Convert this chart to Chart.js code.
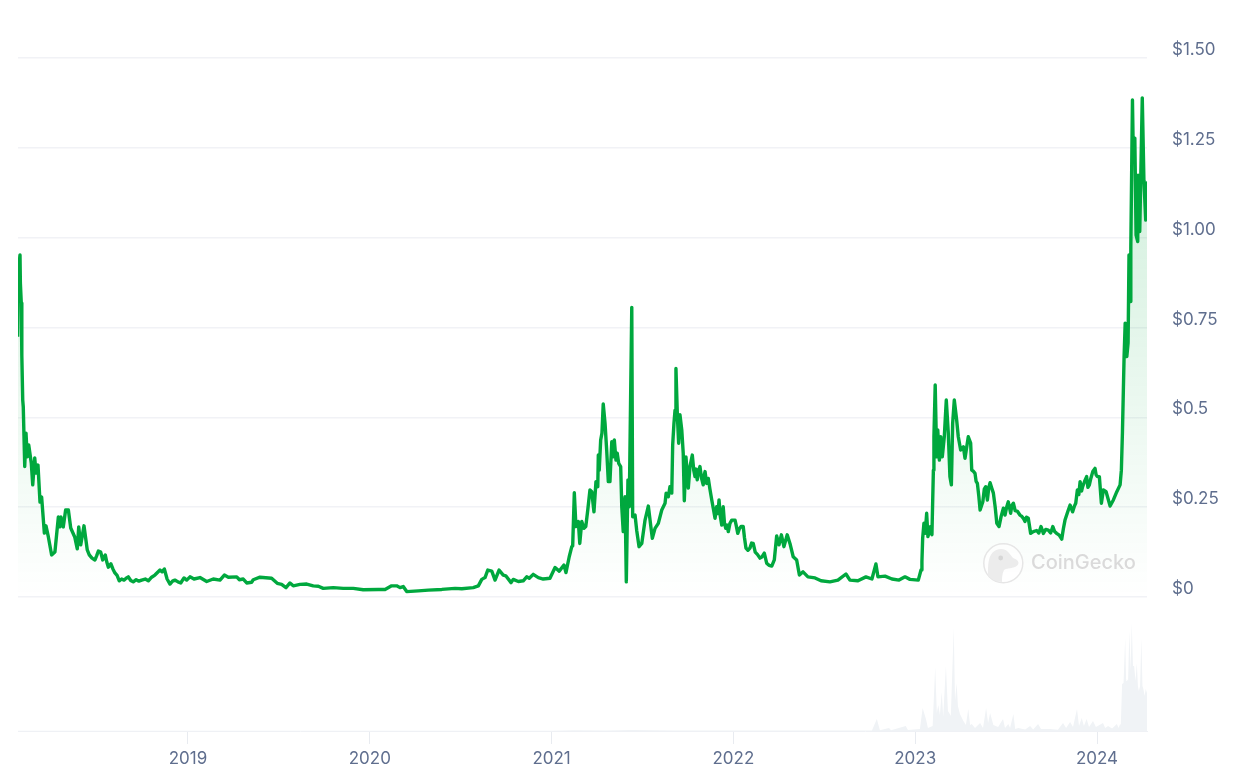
<!DOCTYPE html>
<html>
<head>
<meta charset="utf-8">
<title>Price chart</title>
<style>
  html, body { margin: 0; padding: 0; background: #fff; }
  #chartBox { position: relative; width: 1256px; height: 780px; }
</style>
<script src="https://cdn.jsdelivr.net/npm/chart.js@4"></script>
</head>
<body>
<div id="chartBox"><canvas id="priceChart" width="1256" height="780"></canvas></div>
<script>
// x values are decimal years
const years2018 = [
  2018.063, 2018.065, 2018.076, 2018.078, 2018.083, 2018.086, 2018.091, 2018.094, 2018.102, 2018.109,
  2018.116, 2018.124, 2018.138, 2018.146, 2018.157, 2018.164, 2018.175, 2018.186, 2018.195, 2018.210,
  2018.219, 2018.232, 2018.250, 2018.268, 2018.287, 2018.296, 2018.301, 2018.314, 2018.327, 2018.342,
  2018.355, 2018.377, 2018.391, 2018.399, 2018.410, 2018.428, 2018.446, 2018.457, 2018.472, 2018.488,
  2018.498, 2018.507, 2018.520, 2018.531, 2018.545, 2018.553, 2018.562, 2018.576, 2018.587, 2018.598,
  2018.610, 2018.622, 2018.635, 2018.648, 2018.660, 2018.672, 2018.685, 2018.699, 2018.715, 2018.730,
  2018.745, 2018.765, 2018.782, 2018.800, 2018.818, 2018.832, 2018.846, 2018.858, 2018.870, 2018.885,
  2018.901, 2018.915, 2018.928, 2018.945, 2018.960, 2018.978, 2018.993
];
const prices2018 = [
  0.724, 0.891, 0.952, 0.874, 0.818, 0.673, 0.548, 0.529, 0.363, 0.456,
  0.390, 0.423, 0.373, 0.312, 0.387, 0.345, 0.367, 0.264, 0.278, 0.178,
  0.198, 0.167, 0.117, 0.125, 0.223, 0.195, 0.223, 0.195, 0.242, 0.242,
  0.192, 0.167, 0.134, 0.195, 0.145, 0.198, 0.131, 0.117, 0.108, 0.103,
  0.115, 0.128, 0.125, 0.103, 0.117, 0.098, 0.083, 0.092, 0.078, 0.067,
  0.060, 0.045, 0.050, 0.047, 0.052, 0.056, 0.046, 0.042, 0.048, 0.044,
  0.047, 0.050, 0.045, 0.055, 0.061, 0.068, 0.075, 0.070, 0.078, 0.050,
  0.036, 0.044, 0.047, 0.042, 0.039, 0.053, 0.047
];
const years2019 = [
  2019.011, 2019.033, 2019.066, 2019.103, 2019.139, 2019.176, 2019.200, 2019.222, 2019.268, 2019.282,
  2019.304, 2019.323, 2019.350, 2019.359, 2019.396, 2019.460, 2019.491, 2019.515, 2019.539, 2019.561,
  2019.579, 2019.616, 2019.653, 2019.689, 2019.717, 2019.744, 2019.799, 2019.854, 2019.909, 2019.964
];
const prices2019 = [
  0.056, 0.050, 0.054, 0.043, 0.050, 0.047, 0.061, 0.055, 0.056, 0.048,
  0.050, 0.039, 0.041, 0.048, 0.055, 0.052, 0.038, 0.035, 0.026, 0.039,
  0.031, 0.035, 0.036, 0.031, 0.030, 0.024, 0.026, 0.024, 0.024, 0.020
];
const years2020 = [
  2020.047, 2020.084, 2020.120, 2020.148, 2020.166, 2020.184, 2020.203, 2020.267, 2020.322, 2020.396,
  2020.469, 2020.506, 2020.569, 2020.597, 2020.616, 2020.634, 2020.649, 2020.671, 2020.689, 2020.711,
  2020.734, 2020.748, 2020.777, 2020.789, 2020.817, 2020.844, 2020.863, 2020.877, 2020.899, 2020.927,
  2020.954, 2020.991
];
const prices2020 = [
  0.021, 0.021, 0.031, 0.031, 0.026, 0.029, 0.015, 0.017, 0.019, 0.021,
  0.024, 0.023, 0.026, 0.031, 0.049, 0.054, 0.075, 0.072, 0.047, 0.075,
  0.061, 0.059, 0.040, 0.049, 0.043, 0.045, 0.056, 0.052, 0.063, 0.054,
  0.050, 0.052
];
const years2021 = [
  2021.019, 2021.042, 2021.068, 2021.079, 2021.097, 2021.111, 2021.116, 2021.125, 2021.134, 2021.147,
  2021.155, 2021.166, 2021.178, 2021.188, 2021.199, 2021.211, 2021.221, 2021.233, 2021.244, 2021.254,
  2021.257, 2021.262, 2021.270, 2021.277, 2021.284, 2021.294, 2021.303, 2021.312, 2021.321, 2021.331,
  2021.339, 2021.345, 2021.354, 2021.361, 2021.369, 2021.380, 2021.386, 2021.394, 2021.404, 2021.411,
  2021.420, 2021.427, 2021.441, 2021.446, 2021.459, 2021.468, 2021.481, 2021.496, 2021.514, 2021.532,
  2021.554, 2021.569, 2021.587, 2021.606, 2021.624, 2021.630, 2021.642, 2021.651, 2021.661, 2021.666,
  2021.673, 2021.679, 2021.684, 2021.692, 2021.699, 2021.706, 2021.716, 2021.724, 2021.730, 2021.739,
  2021.752, 2021.761, 2021.774, 2021.782, 2021.789, 2021.795, 2021.801, 2021.808, 2021.816, 2021.825,
  2021.834, 2021.839, 2021.844, 2021.853, 2021.862, 2021.871, 2021.881, 2021.890, 2021.899, 2021.908,
  2021.915, 2021.921, 2021.928, 2021.936, 2021.944, 2021.951, 2021.958, 2021.965, 2021.972, 2021.981,
  2021.991
];
const prices2021 = [
  0.082, 0.072, 0.089, 0.068, 0.112, 0.140, 0.142, 0.290, 0.196, 0.210,
  0.149, 0.210, 0.191, 0.196, 0.242, 0.298, 0.293, 0.237, 0.321, 0.307,
  0.395, 0.353, 0.437, 0.456, 0.537, 0.483, 0.409, 0.321, 0.321, 0.432,
  0.390, 0.437, 0.381, 0.400, 0.372, 0.363, 0.251, 0.182, 0.279, 0.042,
  0.326, 0.251, 0.806, 0.223, 0.228, 0.186, 0.140, 0.149, 0.214, 0.253,
  0.163, 0.191, 0.205, 0.242, 0.261, 0.289, 0.279, 0.307, 0.289, 0.423,
  0.483, 0.520, 0.636, 0.502, 0.428, 0.507, 0.465, 0.400, 0.268, 0.390,
  0.303, 0.363, 0.395, 0.352, 0.335, 0.356, 0.326, 0.350, 0.363, 0.330,
  0.312, 0.338, 0.349, 0.316, 0.330, 0.300, 0.270, 0.245, 0.219, 0.251,
  0.232, 0.270, 0.225, 0.200, 0.251, 0.205, 0.191, 0.200, 0.182, 0.205,
  0.214
];
const years2022 = [
  2022.009, 2022.016, 2022.024, 2022.033, 2022.042, 2022.054, 2022.061, 2022.069, 2022.080, 2022.091,
  2022.100, 2022.109, 2022.120, 2022.133, 2022.146, 2022.158, 2022.170, 2022.183, 2022.196, 2022.211,
  2022.225, 2022.238, 2022.251, 2022.264, 2022.278, 2022.296, 2022.311, 2022.329, 2022.348, 2022.363,
  2022.383, 2022.410, 2022.449, 2022.482, 2022.531, 2022.575, 2022.619, 2022.641, 2022.685, 2022.729,
  2022.762, 2022.784, 2022.795, 2022.834, 2022.872, 2022.911, 2022.944, 2022.971
];
const prices2022 = [
  0.214, 0.198, 0.177, 0.190, 0.196, 0.196, 0.165, 0.136, 0.130, 0.136,
  0.150, 0.149, 0.125, 0.118, 0.108, 0.112, 0.122, 0.094, 0.088, 0.086,
  0.103, 0.170, 0.145, 0.173, 0.140, 0.173, 0.149, 0.112, 0.103, 0.061,
  0.070, 0.056, 0.053, 0.045, 0.042, 0.047, 0.064, 0.047, 0.045, 0.056,
  0.050, 0.092, 0.056, 0.058, 0.050, 0.047, 0.056, 0.049
];
const years2023 = [
  2023.017, 2023.032, 2023.037, 2023.041, 2023.048, 2023.055, 2023.063, 2023.070, 2023.085, 2023.092,
  2023.100, 2023.103, 2023.110, 2023.118, 2023.124, 2023.133, 2023.140, 2023.149, 2023.160, 2023.171,
  2023.182, 2023.191, 2023.199, 2023.206, 2023.215, 2023.228, 2023.237, 2023.250, 2023.265, 2023.274,
  2023.292, 2023.305, 2023.311, 2023.320, 2023.329, 2023.335, 2023.342, 2023.350, 2023.357, 2023.372,
  2023.380, 2023.388, 2023.397, 2023.405, 2023.412, 2023.420, 2023.430, 2023.440, 2023.449, 2023.461,
  2023.473, 2023.485, 2023.494, 2023.503, 2023.512, 2023.525, 2023.532, 2023.540, 2023.550, 2023.563,
  2023.576, 2023.585, 2023.595, 2023.604, 2023.612, 2023.622, 2023.635, 2023.650, 2023.668, 2023.680,
  2023.692, 2023.705, 2023.718, 2023.732, 2023.745, 2023.757, 2023.767, 2023.778, 2023.792, 2023.806,
  2023.815, 2023.824, 2023.839, 2023.852, 2023.866, 2023.875, 2023.883, 2023.892, 2023.900, 2023.907,
  2023.915, 2023.921, 2023.932, 2023.943, 2023.950, 2023.958, 2023.966, 2023.977, 2023.989, 2023.995
];
const prices2023 = [
  0.047, 0.075, 0.098, 0.163, 0.205, 0.177, 0.233, 0.168, 0.196, 0.173,
  0.353, 0.446, 0.590, 0.390, 0.465, 0.381, 0.446, 0.390, 0.446, 0.548,
  0.456, 0.335, 0.312, 0.483, 0.548, 0.493, 0.446, 0.409, 0.418, 0.386,
  0.446, 0.428, 0.353, 0.350, 0.344, 0.322, 0.316, 0.280, 0.242, 0.265,
  0.300, 0.307, 0.270, 0.305, 0.318, 0.305, 0.289, 0.250, 0.205, 0.196,
  0.225, 0.247, 0.228, 0.250, 0.265, 0.233, 0.255, 0.261, 0.240, 0.238,
  0.228, 0.225, 0.219, 0.210, 0.222, 0.219, 0.177, 0.182, 0.185, 0.178,
  0.196, 0.177, 0.188, 0.186, 0.178, 0.196, 0.182, 0.177, 0.172, 0.161,
  0.190, 0.214, 0.237, 0.256, 0.237, 0.252, 0.261, 0.298, 0.285, 0.321,
  0.295, 0.307, 0.322, 0.335, 0.305, 0.312, 0.330, 0.349, 0.358, 0.340
];
const years2024 = [
  2024.002, 2024.013, 2024.024, 2024.035, 2024.050, 2024.072, 2024.090, 2024.109, 2024.127, 2024.134,
  2024.140, 2024.145, 2024.149, 2024.155, 2024.164, 2024.171, 2024.176, 2024.182, 2024.186, 2024.195,
  2024.200, 2024.208, 2024.215, 2024.224, 2024.226, 2024.235, 2024.249, 2024.258, 2024.268, 2024.272,
  2024.275
];
const prices2024 = [
  0.335, 0.335, 0.261, 0.298, 0.293, 0.253, 0.270, 0.293, 0.312, 0.353,
  0.460, 0.576, 0.669, 0.762, 0.669, 0.707, 0.952, 0.822, 0.975, 1.383,
  1.216, 1.277, 1.007, 0.989, 1.174, 1.017, 1.389, 1.160, 1.049, 1.152,
  1.049
];
const volumeYears = [
  2018.065, 2021.000, 2021.125, 2021.300, 2021.440, 2021.680, 2022.000, 2022.700, 2022.762, 2022.789,
  2022.806, 2022.856, 2022.867, 2022.948, 2022.960, 2023.026, 2023.041, 2023.059, 2023.070, 2023.096,
  2023.110, 2023.119, 2023.127, 2023.136, 2023.146, 2023.154, 2023.169, 2023.180, 2023.187, 2023.196,
  2023.212, 2023.219, 2023.228, 2023.235, 2023.246, 2023.265, 2023.279, 2023.292, 2023.302, 2023.311,
  2023.329, 2023.357, 2023.373, 2023.390, 2023.401, 2023.412, 2023.430, 2023.456, 2023.483, 2023.494,
  2023.512, 2023.522, 2023.540, 2023.550, 2023.567, 2023.605, 2023.632, 2023.649, 2023.676, 2023.692,
  2023.741, 2023.785, 2023.813, 2023.830, 2023.852, 2023.868, 2023.890, 2023.901, 2023.916, 2023.928,
  2023.943, 2023.956, 2023.978, 2023.994, 2024.033, 2024.045, 2024.061, 2024.083, 2024.109, 2024.119,
  2024.127, 2024.131, 2024.138, 2024.146, 2024.155, 2024.160, 2024.164, 2024.171, 2024.178, 2024.185,
  2024.191, 2024.198, 2024.204, 2024.212, 2024.219, 2024.225, 2024.230, 2024.237, 2024.244, 2024.250,
  2024.255, 2024.262, 2024.268, 2024.275
];
const volumeValues = [
  2, 3, 8, 6, 10, 6, 4, 4, 6, 120,
  8, 30, 8, 50, 10, 20, 230, 120, 30, 50,
  640, 180, 260, 160, 390, 140, 650, 200, 180, 150,
  1030, 300, 480, 250, 170, 100, 60, 220, 60, 70,
  30, 80, 30, 230, 80, 180, 60, 40, 120, 30,
  70, 30, 170, 20, 30, 15, 50, 15, 70, 20,
  20, 12, 80, 30, 90, 40, 220, 50, 130, 50,
  120, 40, 100, 40, 80, 30, 50, 25, 70, 30,
  70, 60, 470, 480, 930, 500, 520, 500, 1000, 600,
  1080, 650, 650, 500, 680, 450, 400, 450, 930, 450,
  420, 350, 420, 380
];
const tickYears = [2019, 2020, 2021, 2022, 2023, 2024];
const priceTicks = [0, 0.25, 0.5, 0.75, 1, 1.25, 1.5];
const priceLabels = ['$0', '$0.25', '$0.5', '$0.75', '$1.00', '$1.25', '$1.50'];

const LABEL_COLOR = '#5f6e8e';
const LINE_COLOR = '#00a83e';
const FONT = 'Inter, "Noto Sans", sans-serif';

const priceYears = [].concat(years2018, years2019, years2020, years2021, years2022, years2023, years2024);
const priceValues = [].concat(prices2018, prices2019, prices2020, prices2021, prices2022, prices2023, prices2024);

function toPoints(xs, ys) {
  return xs.map((x, i) => ({ x, y: ys[i] }));
}

function areaGradient(context) {
  const { chart } = context;
  if (!chart.chartArea) return 'rgba(0,168,62,0.1)';
  const y = chart.scales.y;
  const gradient = chart.ctx.createLinearGradient(0, y.getPixelForValue(1.39), 0, y.getPixelForValue(0));
  gradient.addColorStop(0, 'rgba(0,168,62,0.2)');
  gradient.addColorStop(1, 'rgba(0,168,62,0)');
  return gradient;
}

// logo and name in the lower right of the plot
const watermark = {
  id: 'watermark',
  afterDatasetsDraw(chart) {
    const c = chart.ctx;
    c.save();
    c.fillStyle = 'rgba(255,255,255,0.55)';
    c.strokeStyle = '#e6e6e6';
    c.lineWidth = 1.5;
    c.beginPath();
    c.arc(1003.3, 563.3, 19.5, 0, Math.PI * 2);
    c.fill();
    c.stroke();
    c.fillStyle = '#ececec';
    c.beginPath();
    c.moveTo(988, 575);
    c.bezierCurveTo(988, 560, 989, 550, 1001, 549);
    c.bezierCurveTo(1007, 549, 1010, 554, 1013, 558);
    c.bezierCurveTo(1020, 560, 1020, 565, 1015, 567);
    c.bezierCurveTo(1010, 569, 1006, 568, 1004, 570);
    c.bezierCurveTo(1002, 574, 1002, 578, 1002, 582);
    c.bezierCurveTo(996, 582, 991, 579, 988, 575);
    c.fill();
    c.fillStyle = '#d6d6d6';
    c.beginPath();
    c.arc(1000.7, 558, 2.4, 0, Math.PI * 2);
    c.fill();
    c.fillStyle = '#dadada';
    c.font = '500 20px ' + FONT;
    c.textBaseline = 'middle';
    c.textAlign = 'left';
    c.fillText('CoinGecko', 1031, 562.5);
    c.restore();
  },
};

new Chart(document.getElementById('priceChart'), {
  type: 'line',
  plugins: [watermark],
  data: {
    datasets: [
      {
        label: 'Price',
        data: toPoints(priceYears, priceValues),
        yAxisID: 'y',
        borderColor: LINE_COLOR,
        borderWidth: 3.4,
        borderJoinStyle: 'round',
        pointRadius: 0,
        tension: 0,
        fill: { target: { value: 0 } },
        backgroundColor: areaGradient,
      },
      {
        label: 'Volume',
        data: toPoints(volumeYears, volumeValues),
        yAxisID: 'volume',
        borderWidth: 0,
        pointRadius: 0,
        tension: 0,
        fill: 'origin',
        backgroundColor: '#f0f3f6',
      },
    ],
  },
  options: {
    responsive: false,
    animation: false,
    layout: { padding: { left: 18, top: 58, right: 0, bottom: 0 } },
    plugins: { legend: { display: false }, tooltip: { enabled: false } },
    scales: {
      x: {
        type: 'linear',
        min: 2018.065,
        max: 2024.275,
        afterBuildTicks: (axis) => { axis.ticks = tickYears.map((value) => ({ value })); },
        afterFit: (axis) => { axis.height = 49; },
        grid: { drawOnChartArea: false, tickLength: 13, tickColor: '#e8ebf0' },
        border: { color: '#eff1f5' },
        ticks: {
          color: LABEL_COLOR,
          font: { family: FONT, size: 17 },
          padding: 5,
          maxRotation: 0,
          autoSkip: false,
          callback: (value) => String(value),
        },
      },
      y: {
        position: 'right',
        min: -0.373,
        max: 1.5,
        afterBuildTicks: (axis) => { axis.ticks = priceTicks.map((value) => ({ value })); },
        afterFit: (axis) => { axis.width = 109; },
        grid: { color: '#f1f2f6', lineWidth: 1.5, drawTicks: false },
        border: { display: false },
        ticks: {
          color: LABEL_COLOR,
          font: { family: FONT, size: 17 },
          padding: 25,
          labelOffset: -8,
          autoSkip: false,
          callback: (value) => priceLabels[priceTicks.indexOf(value)],
        },
      },
      volume: {
        display: false,
        min: 0,
        max: 6730,
      },
    },
  },
});
</script>
</body>
</html>
